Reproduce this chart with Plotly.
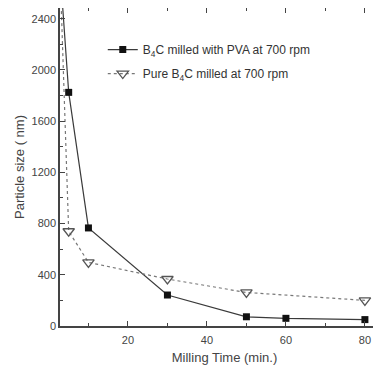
import plotly.graph_objects as go

time_pva = [3, 5, 10, 30, 50, 60, 80]
size_pva = [2700, 1825, 766, 242, 72, 60, 50]

time_pure = [3, 5, 10, 30, 50, 80]
size_pure = [2600, 740, 497, 367, 262, 200]

name_pva = "B<sub>4</sub>C milled with PVA at 700 rpm"
name_pure = "Pure B<sub>4</sub>C milled at 700 rpm"

fig = go.Figure()
fig.add_trace(go.Scatter(
    x=time_pva, y=size_pva, name=name_pva, mode="lines+markers", legendgroup="a",
    line=dict(color="#3a3a3a", width=1.2),
    marker=dict(symbol="square", size=7, color="#111111"),
))
fig.add_trace(go.Scatter(
    x=time_pure, y=size_pure, name=name_pure, mode="lines+markers", legendgroup="b",
    line=dict(color="#777777", width=1.2, dash="dot"),
    marker=dict(symbol="triangle-down-open", size=10, color="#555555", line=dict(width=1.3)),
))

axis_common = dict(
    showline=True, linecolor="#444444", linewidth=1.5, mirror="ticks",
    ticks="inside", ticklen=5, tickwidth=1.2, tickcolor="#444444",
    showgrid=False, zeroline=False, automargin=False,
    tickfont=dict(family="Liberation Sans", size=11, color="#444444"),
)

fig.update_xaxes(
    range=[2.8, 86.1], tickvals=[20, 40, 60, 80],
    minor=dict(dtick=10, tick0=0, ticks="inside", ticklen=3, tickcolor="#444444"),
    ticklabelstandoff=3,
    title=dict(text="Milling Time (min.)", font=dict(family="Liberation Sans", size=13, color="#444444"), standoff=8),
    **axis_common,
)
fig.update_yaxes(
    range=[0, 2484], tickvals=[0, 400, 800, 1200, 1600, 2000, 2400],
    minor=dict(dtick=200, tick0=0, ticks="inside", ticklen=3, tickcolor="#444444"),
    title=dict(text="Particle size ( nm)", font=dict(family="Liberation Sans", size=13, color="#444444"), standoff=4),
    **axis_common,
)

fig.update_layout(
    width=381, height=367,
    margin=dict(l=52, r=0, t=0, b=49),
    plot_bgcolor="white", paper_bgcolor="white",
    showlegend=True,
    legend=dict(
        x=0.13, y=0.915, xanchor="left", yanchor="top",
        bgcolor="rgba(0,0,0,0)", tracegroupgap=5,
        font=dict(family="Liberation Sans", size=12, color="#333333"),
        itemwidth=30,
    ),
)

fig.write_html("out.html")
